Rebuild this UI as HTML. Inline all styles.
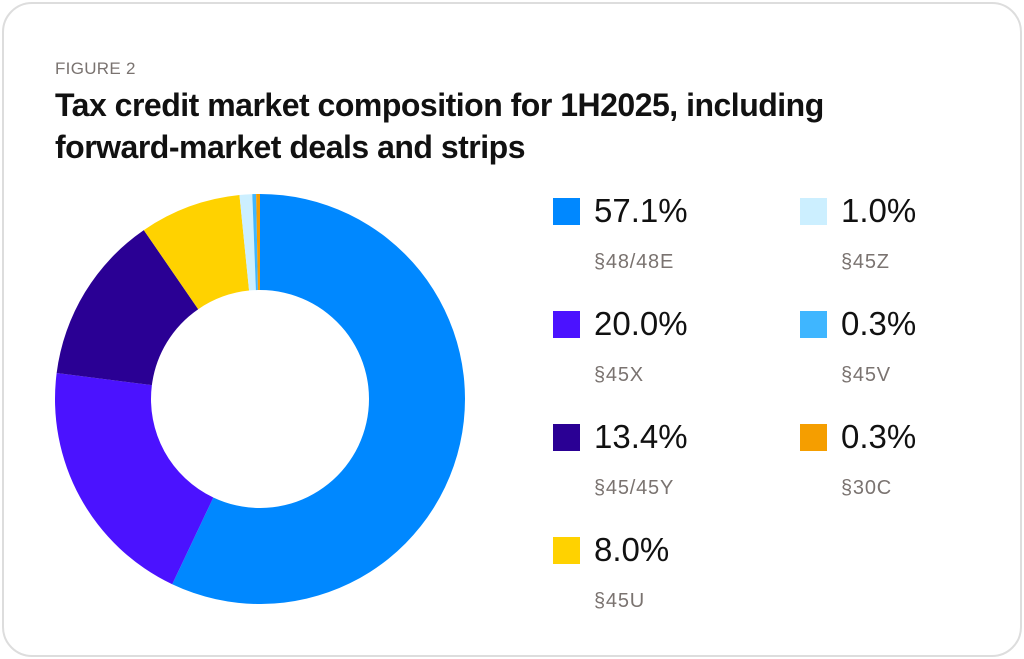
<!DOCTYPE html>
<html><head><meta charset="utf-8"><style>
body{margin:0;width:1024px;height:659px;background:#fff;font-family:"Liberation Sans",sans-serif;overflow:hidden}
.card{position:absolute;left:2px;top:2px;width:1016px;height:651px;border:2px solid #ddd;border-radius:30px;background:#fff}
.fig{position:absolute;left:55px;top:59px;font-size:17px;color:#7a7370;letter-spacing:.3px}
.title{position:absolute;left:55px;top:84px;font-size:32px;font-weight:bold;color:#111;line-height:42px;letter-spacing:-.5px}
.leg{position:absolute}
.sw{position:absolute;left:0;top:0;width:27px;height:27px}
.pct{position:absolute;left:41px;top:-6px;font-size:33px;color:#111;white-space:nowrap}
.lab{position:absolute;left:41px;top:53px;font-size:20px;color:#7a7370;white-space:nowrap;letter-spacing:.8px}
</style></head><body>
<div class="card"></div>
<div class="fig">FIGURE 2</div>
<div class="title">Tax credit market composition for 1H2025, including<br>forward-market deals and strips</div>
<svg id="donut" width="1024" height="659" style="position:absolute;left:0;top:0"></svg>
<div id="legend"></div>
<script>
const labels=["§48/48E","§45X","§45/45Y","§45U","§45Z","§45V","§30C"];
const values=[57.1,20.0,13.4,8.0,1.0,0.3,0.3];
const colors=["#0088ff","#4b12ff","#2a0094","#ffd200","#ccefff","#3fb6ff","#f59e00"];
const cx=260,cy=399,R=205,r=109;
const svg=document.getElementById('donut');
const total=values.reduce((a,b)=>a+b,0);
let a0=0;
function pt(rad,a){return [cx+rad*Math.sin(a),cy-rad*Math.cos(a)];}
values.forEach((v,i)=>{
  const a1=a0+v/total*2*Math.PI;
  const [x1,y1]=pt(R,a0),[x2,y2]=pt(R,a1),[x3,y3]=pt(r,a1),[x4,y4]=pt(r,a0);
  const lg=(a1-a0)>Math.PI?1:0;
  const p=document.createElementNS('http://www.w3.org/2000/svg','path');
  p.setAttribute('d',`M${x1},${y1}A${R},${R} 0 ${lg} 1 ${x2},${y2}L${x3},${y3}A${r},${r} 0 ${lg} 0 ${x4},${y4}Z`);
  p.setAttribute('fill',colors[i]);
  
  
  svg.appendChild(p);
  a0=a1;
});
const lg=document.getElementById('legend');
const colX=[553,800],rowY=[198,311,424,537];
values.forEach((v,i)=>{
  const col=i<4?0:1,row=i<4?i:i-4;
  const d=document.createElement('div');
  d.className='leg';
  d.style.left=colX[col]+'px';d.style.top=rowY[row]+'px';
  
  
  d.innerHTML=`<div class="sw" style="background:${colors[i]}"></div><div class="pct">${v.toFixed(1)}%</div><div class="lab">${labels[i]}</div>`;
  lg.appendChild(d);
});
</script>
</body></html>
